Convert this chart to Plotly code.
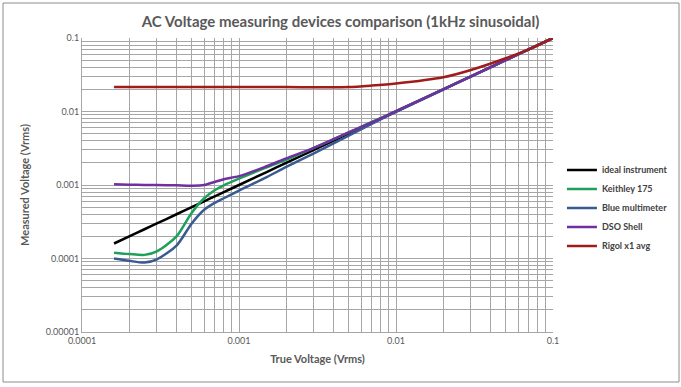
import plotly.graph_objects as go

true_v = [0.00016, 0.0002, 0.00025, 0.0003, 0.0004, 0.0005, 0.0006, 0.0007, 0.0008, 0.001,
          0.0015, 0.002, 0.003, 0.005, 0.007, 0.01, 0.02, 0.03, 0.05, 0.07, 0.1]
ideal = [0.00016, 0.0002, 0.00025, 0.0003, 0.0004, 0.0005, 0.0006, 0.0007, 0.0008, 0.001,
         0.0015, 0.002, 0.003, 0.005, 0.007, 0.01, 0.02, 0.03, 0.05, 0.07, 0.1]
keithley = [0.00012, 0.000115, 0.000112, 0.000125, 0.0002, 0.00042, 0.00066, 0.00085, 0.00099, 0.00122,
            0.00174, 0.0022, 0.0032, 0.0052, 0.0072, 0.0101, 0.0201, 0.0301, 0.05, 0.07, 0.1]
blue_mm = [0.0001, 0.000093, 0.000088, 0.0000975, 0.00015, 0.0003, 0.00046, 0.00057, 0.00066, 0.00084,
           0.00128, 0.00176, 0.0027, 0.0047, 0.0068, 0.0099, 0.0199, 0.0299, 0.0499, 0.0699, 0.1]
dso = [0.00102, 0.00101, 0.001, 0.001, 0.00099, 0.00098, 0.001, 0.0011, 0.0012, 0.00132,
       0.0018, 0.0023, 0.0032, 0.0052, 0.0071, 0.0101, 0.02, 0.03, 0.05, 0.07, 0.1]
rigol = [0.0216, 0.0216, 0.0216, 0.0216, 0.0216, 0.0216, 0.0216, 0.0216, 0.0216, 0.0215,
         0.0215, 0.0215, 0.0214, 0.0215, 0.0225, 0.0240, 0.0292, 0.0367, 0.0530, 0.0700, 0.1]

series = [
    ("ideal instrument", ideal, "#000000"),
    ("Keithley 175", keithley, "#1ea05a"),
    ("Blue multimeter", blue_mm, "#3a5a92"),
    ("DSO Shell", dso, "#7030a0"),
    ("Rigol x1 avg", rigol, "#a01c1c"),
]

x_ticks = [0.0001, 0.001, 0.01, 0.1]
x_ticktext = ["0.0001", "0.001", "0.01", "0.1"]
y_ticks = [0.00001, 0.0001, 0.001, 0.01, 0.1]
y_ticktext = ["0.00001", "0.0001", "0.001", "0.01", "0.1"]

fig = go.Figure()
for name, vals, col in series:
    fig.add_trace(go.Scatter(x=true_v, y=vals, name="<b>" + name + "</b>", mode="lines",
                             line=dict(color=col, width=2.5, shape="spline", smoothing=0.8)))

font = "Lato, 'Open Sans', sans-serif"
grid = "#a6a6a6"
fig.update_layout(
    width=681, height=387,
    margin=dict(l=82, r=128, t=38, b=55, autoexpand=False),
    paper_bgcolor="white", plot_bgcolor="white",
    font=dict(family=font, color="#595959", size=10),
    title=dict(text="<b>AC Voltage measuring devices comparison (1kHz sinusoidal)</b>",
               x=0.5, xanchor="center", y=0.943, yanchor="middle",
               font=dict(size=15, color="#595959", family=font)),
    legend=dict(x=1.019, xanchor="left", y=0.422, yanchor="middle",
                font=dict(size=9, color="#404040", family=font),
                tracegroupgap=0, itemwidth=30, bgcolor="rgba(0,0,0,0)"),
    xaxis=dict(type="log", range=[-4, -1], tickvals=x_ticks, ticktext=x_ticktext,
               showgrid=True, gridcolor=grid, gridwidth=1, automargin=False,
               minor=dict(dtick="D1", showgrid=True, gridcolor=grid, gridwidth=1),
               showline=True, linecolor=grid, ticks="", zeroline=False,
               title=dict(text="<b>True Voltage (Vrms)</b>", font=dict(size=11, color="#595959"), standoff=10),
               tickfont=dict(size=9, color="#595959")),
    yaxis=dict(type="log", range=[-5, -1], tickvals=y_ticks, ticktext=y_ticktext,
               showgrid=True, gridcolor=grid, gridwidth=1, automargin=False,
               minor=dict(dtick="D1", showgrid=True, gridcolor=grid, gridwidth=1),
               showline=True, linecolor=grid, ticks="", zeroline=False,
               title=dict(text="<b>Measured Voltage (Vrms)</b>", font=dict(size=11, color="#595959"), standoff=13),
               tickfont=dict(size=9, color="#595959")),
    shapes=[dict(type="rect", xref="paper", yref="paper",
                 x0=-79/471, x1=1 + 126/471, y0=-50/294, y1=1 + 35/294,
                 line=dict(color="#8c8c8c", width=1), layer="below")],
)

fig.write_html("out.html", config={"displayModeBar": False},
               post_script="document.body.style.margin='0';")
